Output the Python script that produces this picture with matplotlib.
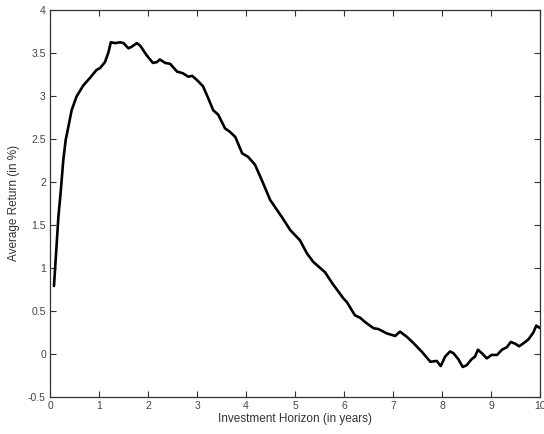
import matplotlib
matplotlib.use("Agg")
import matplotlib.pyplot as plt

# average return by investment horizon
horizon = [0.08, 0.14, 0.17, 0.22, 0.27, 0.32, 0.36, 0.44, 0.54, 0.68, 0.82, 0.95,
           1.02, 1.12, 1.19, 1.24, 1.33, 1.43, 1.50, 1.60, 1.67, 1.77, 1.84, 1.97,
           2.10, 2.18, 2.24, 2.35, 2.45, 2.59, 2.71, 2.82, 2.90, 3.00, 3.12, 3.22,
           3.33, 3.43, 3.57, 3.67, 3.78, 3.92, 4.04, 4.18, 4.35, 4.49, 4.73, 4.90,
           5.10, 5.24, 5.37, 5.61, 5.76, 5.98, 6.06, 6.22, 6.33, 6.43, 6.60, 6.70,
           6.87, 7.04, 7.14, 7.28, 7.41, 7.58, 7.76, 7.89, 7.97, 8.06, 8.16, 8.23,
           8.33, 8.42, 8.50, 8.60, 8.67, 8.73, 8.81, 8.91, 9.01, 9.12, 9.22, 9.32,
           9.40, 9.49, 9.57, 9.67, 9.76, 9.86, 9.92, 10.00]
avg_return = [0.79, 1.32, 1.59, 1.90, 2.25, 2.49, 2.60, 2.83, 2.99, 3.12, 3.21, 3.30,
              3.32, 3.39, 3.50, 3.62, 3.61, 3.62, 3.61, 3.55, 3.57, 3.61, 3.58, 3.47,
              3.38, 3.39, 3.42, 3.38, 3.37, 3.28, 3.26, 3.22, 3.23, 3.18, 3.11, 2.98,
              2.83, 2.78, 2.62, 2.58, 2.52, 2.33, 2.29, 2.20, 1.98, 1.79, 1.59, 1.44,
              1.32, 1.17, 1.07, 0.95, 0.82, 0.65, 0.60, 0.45, 0.42, 0.37, 0.30, 0.29,
              0.24, 0.21, 0.26, 0.20, 0.13, 0.03, -0.09, -0.08, -0.14, -0.03, 0.03, 0.01,
              -0.06, -0.15, -0.13, -0.06, -0.03, 0.05, 0.01, -0.05, -0.01, -0.01, 0.05, 0.08,
              0.14, 0.12, 0.09, 0.13, 0.17, 0.25, 0.33, 0.30]

x_ticks = [0, 1, 2, 3, 4, 5, 6, 7, 8, 9, 10]
y_ticks = [-0.5, 0, 0.5, 1, 1.5, 2, 2.5, 3, 3.5, 4]
y_labels = ["-0.5", "0", "0.5", "1", "1.5", "2", "2.5", "3", "3.5", "4"]

plt.rcParams['font.family'] = ['Liberation Sans', 'DejaVu Sans']

fig = plt.figure(figsize=(5.44, 4.34), dpi=100)
ax = fig.add_axes([0.092, 0.085, 0.901, 0.893])

ax.plot(horizon, avg_return, color='black', linewidth=1.9,
        solid_joinstyle='round', solid_capstyle='round')

ax.set_xlim(0, 10)
ax.set_ylim(-0.5, 4)
ax.set_xticks(x_ticks)
ax.set_yticks(y_ticks)
ax.set_yticklabels(y_labels)
ax.tick_params(direction='in', length=4, width=0.8, top=True, right=True,
               labelsize=7.5, labelcolor='#444444', color='#333333', pad=3)
for s in ax.spines.values():
    s.set_linewidth(0.9)
    s.set_color('#333333')

ax.set_xlabel('Investment Horizon (in years)', fontsize=8.5, color='#333333', labelpad=1)
ax.set_ylabel('Average Return (in %)', fontsize=8.5, color='#333333', labelpad=6)

fig.savefig('out.png', dpi=100)
